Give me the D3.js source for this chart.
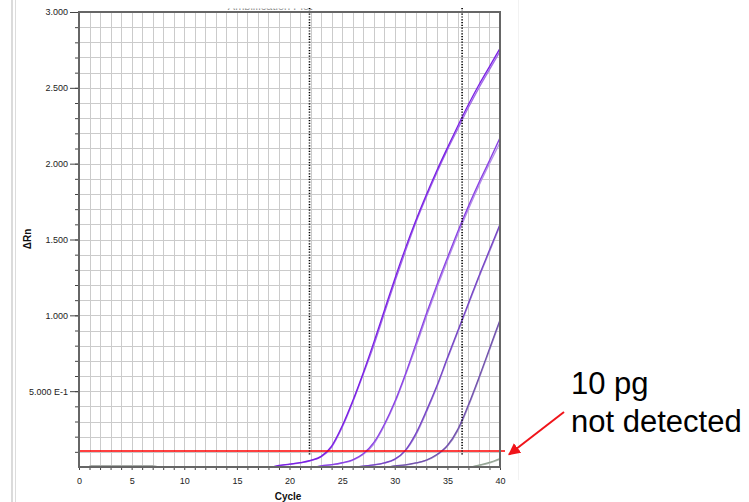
<!DOCTYPE html>
<html>
<head>
<meta charset="utf-8">
<script src="https://cdn.jsdelivr.net/npm/d3@7/dist/d3.min.js"></script>
<style>
  html, body { margin: 0; padding: 0; background: #fff; }
  svg { display: block; }
</style>
</head>
<body>
<svg id="chart" width="749" height="502"></svg>
<script>
// Amplification plot: delta Rn vs cycle for a dilution series (two replicate wells each)

const yTickValues = [0.5, 1.0, 1.5, 2.0, 2.5, 3.0];
const yTickLabels = ["5.000 E-1", "1.000", "1.500", "2.000", "2.500", "3.000"];
const xTickLabels = ["0", "5", "10", "15", "20", "25", "30", "35", "40"];

const threshold = 0.105;
const markerCycles = [21.9, 36.4];

// first cycle of each trace, then the per-cycle delta Rn readings
const std1Start = 18;
const std1RepA = [-0.008, 0.010, 0.019, 0.029, 0.043, 0.070, 0.138, 0.27, 0.435, 0.62, 0.82, 1.03, 1.24, 1.44, 1.625, 1.795, 1.955, 2.105, 2.25, 2.39, 2.52, 2.64, 2.76];
const std1RepB = [-0.010, 0.008, 0.018, 0.027, 0.041, 0.066, 0.130, 0.26, 0.425, 0.61, 0.80, 1.01, 1.22, 1.42, 1.610, 1.780, 1.940, 2.090, 2.23, 2.37, 2.50, 2.62, 2.74];

const std2Start = 22;
const std2RepA = [-0.006, 0.008, 0.016, 0.028, 0.047, 0.087, 0.16, 0.28, 0.43, 0.61, 0.81, 1.01, 1.20, 1.38, 1.555, 1.72, 1.875, 2.02, 2.17];
const std2RepB = [-0.008, 0.006, 0.014, 0.026, 0.044, 0.082, 0.15, 0.27, 0.42, 0.60, 0.79, 0.99, 1.18, 1.36, 1.535, 1.70, 1.855, 2.00, 2.14];

const std3Start = 26;
const std3RepA = [-0.005, 0.006, 0.014, 0.027, 0.052, 0.110, 0.22, 0.37, 0.535, 0.72, 0.90, 1.08, 1.26, 1.43, 1.60];
const std3RepB = [-0.007, 0.005, 0.012, 0.025, 0.048, 0.105, 0.21, 0.36, 0.525, 0.71, 0.89, 1.07, 1.25, 1.42, 1.59];

const std4Start = 29;
const std4RepA = [-0.004, 0.007, 0.014, 0.027, 0.046, 0.082, 0.142, 0.25, 0.41, 0.59, 0.78, 0.97];
const std4RepB = [-0.006, 0.005, 0.012, 0.025, 0.043, 0.078, 0.136, 0.24, 0.40, 0.58, 0.77, 0.96];

const std5Start = 37;
const std5RepA = [-0.004, 0.012, 0.030, 0.056];
const std5RepB = [-0.006, 0.009, 0.026, 0.050];

const ntcStart = 1;
const ntcRep = [0.009, 0.009, 0.009, 0.009, 0.009, 0.009, 0.009, -0.010, -0.020];

const traces = [
  { start: std1Start, values: std1RepB, color: "#a169ea" },
  { start: std1Start, values: std1RepA, color: "#7a1fe4" },
  { start: std2Start, values: std2RepB, color: "#b58fea" },
  { start: std2Start, values: std2RepA, color: "#8a42e4" },
  { start: std3Start, values: std3RepB, color: "#aa8cd8" },
  { start: std3Start, values: std3RepA, color: "#7646c6" },
  { start: std4Start, values: std4RepB, color: "#a898c8" },
  { start: std4Start, values: std4RepA, color: "#7252ae" },
  { start: std5Start, values: std5RepB, color: "#b4bcb4" },
  { start: std5Start, values: std5RepA, color: "#93a493" },
  { start: ntcStart, values: ntcRep, color: "#a9ada9" }
];

const svg = d3.select("#chart");
const W = 749, H = 502;
const plot = { left: 79, right: 500, top: 12, bottom: 467 };

const x = d3.scaleLinear().domain([0, 40]).range([plot.left, plot.right]);
const y = d3.scaleLinear().domain([0, 3]).range([plot.bottom, plot.top]);

svg.append("rect").attr("width", W).attr("height", H).attr("fill", "#fff");

// window frame lines at the left and right
svg.append("line").attr("x1", 12).attr("x2", 12).attr("y1", 0).attr("y2", H)
  .attr("stroke", "#cfcfcf").attr("stroke-width", 1.5);
svg.append("line").attr("x1", 15.5).attr("x2", 15.5).attr("y1", 0).attr("y2", H)
  .attr("stroke", "#dcdcdc").attr("stroke-width", 1);
svg.append("line").attr("x1", 518.5).attr("x2", 518.5).attr("y1", 0).attr("y2", 480)
  .attr("stroke", "#f2f2f2").attr("stroke-width", 1);

// partially hidden title strip
const defs = svg.append("defs");
defs.append("clipPath").attr("id", "titleClip")
  .append("rect").attr("x", 0).attr("y", 8.5).attr("width", W).attr("height", 1.5);
svg.append("text")
  .attr("x", 270).attr("y", 10)
  .attr("text-anchor", "middle")
  .attr("clip-path", "url(#titleClip)")
  .style("font-family", "Liberation Sans, Arial, sans-serif")
  .style("font-size", "11px")
  .style("fill", "#888")
  .text("Amplification Plot");

// grid
const grid = svg.append("g");
grid.selectAll("line.gx")
  .data(d3.range(1, 40))
  .join("line")
  .attr("x1", d => Math.round(x(d)) + 0.5).attr("x2", d => Math.round(x(d)) + 0.5)
  .attr("y1", plot.top).attr("y2", plot.bottom)
  .attr("stroke", "#cbcbcb").attr("stroke-width", 1);
grid.selectAll("line.gy")
  .data(d3.range(1, 30).map(i => i / 10))
  .join("line")
  .attr("y1", d => Math.round(y(d)) + 0.5).attr("y2", d => Math.round(y(d)) + 0.5)
  .attr("x1", plot.left).attr("x2", plot.right)
  .attr("stroke", "#cbcbcb").attr("stroke-width", 1);

// axes
const fontFam = "Liberation Sans, Arial, sans-serif";

const yMinor = d3.axisLeft(y)
  .tickValues(d3.range(1, 30).map(i => i / 10))
  .tickSize(4).tickFormat("");
const yMajor = d3.axisLeft(y)
  .tickValues(yTickValues)
  .tickSize(9).tickPadding(2)
  .tickFormat((d, i) => yTickLabels[i]);
const xAxis = d3.axisBottom(x)
  .tickValues(d3.range(0, 41))
  .tickSize(3).tickPadding(8)
  .tickFormat(d => (d % 5 === 0 ? xTickLabels[d / 5] : ""));

function styleAxis(g) {
  g.select(".domain").remove();
  g.selectAll(".tick line").attr("stroke", "#444");
  g.selectAll(".tick text")
    .style("font-family", fontFam).style("font-size", "9px").attr("fill", "#222");
}

svg.append("g").attr("transform", `translate(${plot.left},0)`).call(yMinor).call(styleAxis);
svg.append("g").attr("transform", `translate(${plot.left},0)`).call(yMajor).call(styleAxis);
svg.append("g").attr("transform", `translate(0,${plot.bottom})`).call(xAxis).call(styleAxis);

// amplification traces
defs.append("clipPath").attr("id", "plotClip")
  .append("rect").attr("x", plot.left).attr("y", plot.top)
  .attr("width", plot.right - plot.left).attr("height", plot.bottom - plot.top);

const line = d3.line()
  .x(d => x(d.c)).y(d => y(d.v))
  .curve(d3.curveMonotoneX);

const traceG = svg.append("g").attr("clip-path", "url(#plotClip)");
traces.forEach(t => {
  const pts = t.values.map((v, i) => ({ c: t.start + i, v }));
  traceG.append("path")
    .attr("d", line(pts))
    .attr("fill", "none")
    .attr("stroke", t.color)
    .attr("stroke-width", 1.3);
});

// threshold line
const thrY = y(threshold);
svg.append("line")
  .attr("x1", plot.left).attr("x2", 505)
  .attr("y1", thrY).attr("y2", thrY)
  .attr("stroke", "#ff0000").attr("stroke-width", 1.5);

// baseline start/end markers
svg.selectAll("line.marker")
  .data(markerCycles)
  .join("line")
  .attr("x1", d => x(d)).attr("x2", d => x(d))
  .attr("y1", 8).attr("y2", thrY + 4)
  .attr("stroke", "#000").attr("stroke-width", 1.6)
  .attr("stroke-dasharray", "1.2,1.6");

// plot frame
svg.append("rect")
  .attr("x", plot.left).attr("y", plot.top)
  .attr("width", plot.right - plot.left).attr("height", plot.bottom - plot.top)
  .attr("fill", "none").attr("stroke", "#666").attr("stroke-width", 2);

// axis titles
svg.append("text")
  .attr("transform", `translate(31,239) rotate(-90)`)
  .attr("text-anchor", "middle")
  .style("font-family", fontFam).style("font-size", "10px").style("font-weight", "bold")
  .attr("fill", "#111")
  .text("ΔRn");
svg.append("text")
  .attr("x", 288).attr("y", 500)
  .attr("text-anchor", "middle")
  .style("font-family", fontFam).style("font-size", "10px").style("font-weight", "bold")
  .attr("fill", "#111")
  .text("Cycle");

// annotation
const ann = svg.append("g");
defs.append("marker")
  .attr("id", "arrowHead").attr("viewBox", "0 0 10 10")
  .attr("refX", 9).attr("refY", 5)
  .attr("markerWidth", 6).attr("markerHeight", 6)
  .attr("markerUnits", "strokeWidth")
  .attr("orient", "auto")
  .append("path").attr("d", "M0,0 L10,5 L0,10 Z").attr("fill", "#f0141a");
ann.append("line")
  .attr("x1", 564).attr("y1", 412).attr("x2", 509).attr("y2", 454.5)
  .attr("stroke", "#f0141a").attr("stroke-width", 2)
  .attr("marker-end", "url(#arrowHead)");
ann.append("text")
  .attr("x", 571).attr("y", 394)
  .style("font-family", fontFam).style("font-size", "31px")
  .attr("fill", "#000")
  .text("10 pg");
ann.append("text")
  .attr("x", 571).attr("y", 432)
  .style("font-family", fontFam).style("font-size", "31px")
  .attr("fill", "#000")
  .text("not detected");
</script>
</body>
</html>
